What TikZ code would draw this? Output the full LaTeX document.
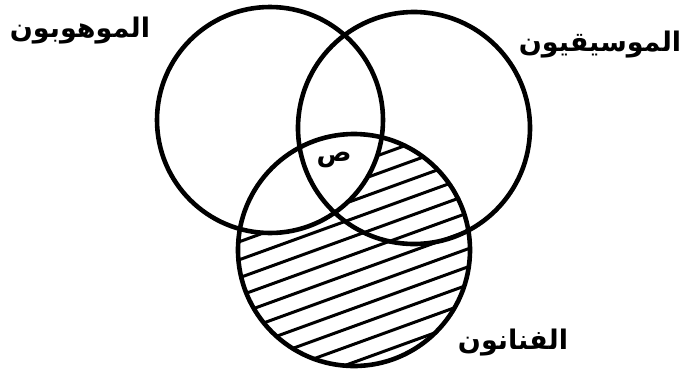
\documentclass[tikz,border=0pt]{standalone}
\usepackage{fontspec}
\newfontfamily\arabicfont[Script=Arabic]{DejaVu Sans}
\TeXXeTstate=1
\usepackage{tikz}

\begin{document}
\begin{tikzpicture}[x=1pt,y=-1pt,line width=4.6pt,
    setlabel/.style={font=\arabicfont\bfseries\fontsize{27}{32}\selectfont,inner sep=0pt},
    hatchline/.style={line width=3pt}]
    \useasboundingbox (0,0) rectangle (686,373);

    % centres of the three sets
    \coordinate (gifted) at (270,120);
    \coordinate (music) at (414,128);
    \coordinate (arts) at (354,250);

    % hatched part: arts outside gifted
    \begin{scope}[even odd rule]
        \clip (arts) circle (116);
        \clip (0,0) rectangle (686,373) (gifted) circle (113);
        \foreach \b in {130,148,...,580}
            \draw[hatchline] (200,\b) -- (520,\b-116);
    \end{scope}

    \draw (gifted) circle (113);
    \draw (music) circle (116);
    \draw (arts) circle (116);

    \node[setlabel] (giftedlabel) at (80,31) {\beginR الموهوبون\endR};
    \node[setlabel] (musiclabel) at (600,45) {\beginR الموسيقيون\endR};
    \node[setlabel] (artslabel) at (513,343) {\beginR الفنانون\endR};
    \node[setlabel,font=\arabicfont\bfseries\fontsize{26}{30}\selectfont] (x) at (334,160) {\beginR ص\endR};
\end{tikzpicture}
\end{document}
